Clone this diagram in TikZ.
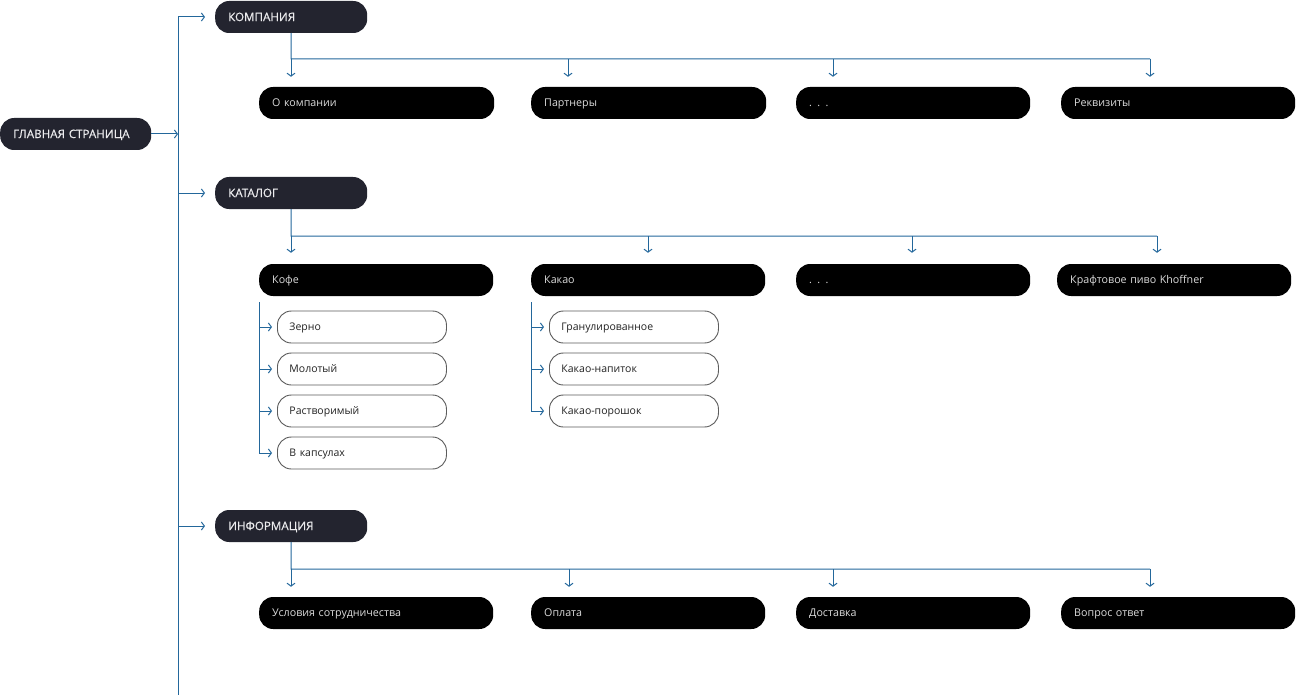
\documentclass[tikz,border=0pt]{standalone}
\usepackage{fontspec}
\setmainfont{Open Sans}
\IfFontExistsTF{Open Sans SemiBold}
  {\newfontfamily\titlefont{Open Sans SemiBold}}
  {\newfontfamily\titlefont{Open Sans}[FakeBold=0.6]}
\usetikzlibrary{arrows.meta}
\definecolor{navy}{HTML}{23242F}
\definecolor{lnblue}{HTML}{23679B}
\definecolor{lighttxt}{HTML}{ECECEE}
\definecolor{graytxt}{HTML}{DCDCDC}
\definecolor{boxedge}{HTML}{5C5C5C}
\definecolor{darktxt}{HTML}{222222}
\tikzset{
  titlebox/.style={anchor=west, fill=navy, text=lighttxt, rounded corners=14pt,
    minimum height=32pt, inner ysep=0pt, inner xsep=13pt, text width=#1-26pt,
    text height=8.1pt, text depth=0pt,
    align=left, font=\titlefont\fontsize{11.6}{13}\selectfont},
  titlebox/.default=152pt,
  itembox/.style={anchor=west, fill=black, text=graytxt, rounded corners=14pt,
    minimum height=32pt, inner ysep=0pt, inner xsep=13pt, text width=#1-26pt,
    text height=7.6pt, text depth=0pt,
    align=left, font=\fontsize{10.7}{12}\selectfont},
  itembox/.default=235pt,
  subbox/.style={anchor=west, fill=white, draw=boxedge, line width=0.9pt, text=darktxt,
    rounded corners=14pt, minimum height=32pt, inner ysep=0pt, inner xsep=12pt,
    text height=7.5pt, text depth=0pt,
    text width=169pt-24pt, align=left, font=\fontsize{10.5}{12}\selectfont},
  ln/.style={draw=lnblue, line width=1pt},
  arr/.style={ln, -{Straight Barb[length=3pt,width=8pt,line width=1pt]}},
}
\begin{document}
\begin{tikzpicture}[x=1pt,y=-1pt]
\useasboundingbox (0,0) rectangle (1297,695);

% main nodes
\node[titlebox=151pt] (home) at (0,134) {ГЛАВНАЯ СТРАНИЦА};
\node[titlebox] (komp) at (215,17) {КОМПАНИЯ};
\node[titlebox] (kat) at (215,193) {КАТАЛОГ};
\node[titlebox] (info) at (215,526) {ИНФОРМАЦИЯ};

% row 1
\node[itembox] (k1) at (259,103) {О компании};
\node[itembox] (k2) at (531,103) {Партнеры};
\node[itembox=234pt] (k3) at (796,103) {. . .};
\node[itembox=234pt] (k4) at (1061,103) {Реквизиты};

% row 2
\node[itembox=234pt] (c1) at (259,280) {Кофе};
\node[itembox=234pt] (c2) at (531,280) {Какао};
\node[itembox=234pt] (c3) at (796,280) {. . .};
\node[itembox=234pt] (c4) at (1057,280) {Крафтовое пиво Khoffner};

% row 3
\node[itembox=234pt] (i1) at (259,613) {Условия сотрудничества};
\node[itembox=234pt] (i2) at (531,613) {Оплата};
\node[itembox=234pt] (i3) at (796,613) {Доставка};
\node[itembox=234pt] (i4) at (1061,613) {Вопрос ответ};

% coffee subs
\node[subbox] (s1) at (277,327) {Зерно};
\node[subbox] (s2) at (277,369) {Молотый};
\node[subbox] (s3) at (277,411) {Растворимый};
\node[subbox] (s4) at (277,453) {В капсулах};
% cocoa subs
\node[subbox] (t1) at (549,327) {Гранулированное};
\node[subbox] (t2) at (549,369) {Какао-напиток};
\node[subbox] (t3) at (549,411) {Какао-порошок};

% trunk
\coordinate (trTop) at (178,17);
\coordinate (trBot) at (178,695);
\draw[ln] (trTop) -- (trBot);
\draw[arr] (home.east) -- (home.east -| trTop);
\draw[arr, shorten >=10pt] (trTop) -- (komp.west);
\draw[arr, shorten >=10pt] (kat.west -| trTop) -- (kat.west);
\draw[arr, shorten >=10pt] (info.west -| trTop) -- (info.west);

% company branch
\coordinate (ka) at (291,59);
\coordinate (kb) at (568,59);
\coordinate (kc) at (833,59);
\coordinate (kd) at (1150,59);
\draw[ln] (komp.south) -- (ka) -- (kd);
\foreach \c/\n in {ka/k1,kb/k2,kc/k3,kd/k4}
  \draw[arr, shorten >=10pt] (\c) -- (\c |- \n.north);

% catalog branch
\coordinate (ca) at (291,236);
\coordinate (cb) at (648,236);
\coordinate (cc) at (912,236);
\coordinate (cd) at (1157,236);
\draw[ln] (kat.south) -- (ca) -- (cd);
\foreach \c/\n in {ca/c1,cb/c2,cc/c3,cd/c4}
  \draw[arr, shorten >=11pt] (\c) -- (\c |- \n.north);

% info branch
\coordinate (ia) at (291,569);
\coordinate (ib) at (569,569);
\coordinate (ic) at (833,569);
\coordinate (id) at (1150,569);
\draw[ln] (info.south) -- (ia) -- (id);
\foreach \c/\n in {ia/i1,ib/i2,ic/i3,id/i4}
  \draw[arr, shorten >=10pt] (\c) -- (\c |- \n.north);

% coffee sub-branch
\coordinate (cfTop) at (259,302);
\draw[ln] (cfTop) -- (cfTop |- s4.west);
\foreach \n in {s1,s2,s3,s4}
  \draw[arr, shorten >=5pt] (\n.west -| cfTop) -- (\n.west);

% cocoa sub-branch
\coordinate (ccTop) at (531,302);
\draw[ln] (ccTop) -- (ccTop |- t3.west);
\foreach \n in {t1,t2,t3}
  \draw[arr, shorten >=5pt] (\n.west -| ccTop) -- (\n.west);
\end{tikzpicture}
\end{document}
